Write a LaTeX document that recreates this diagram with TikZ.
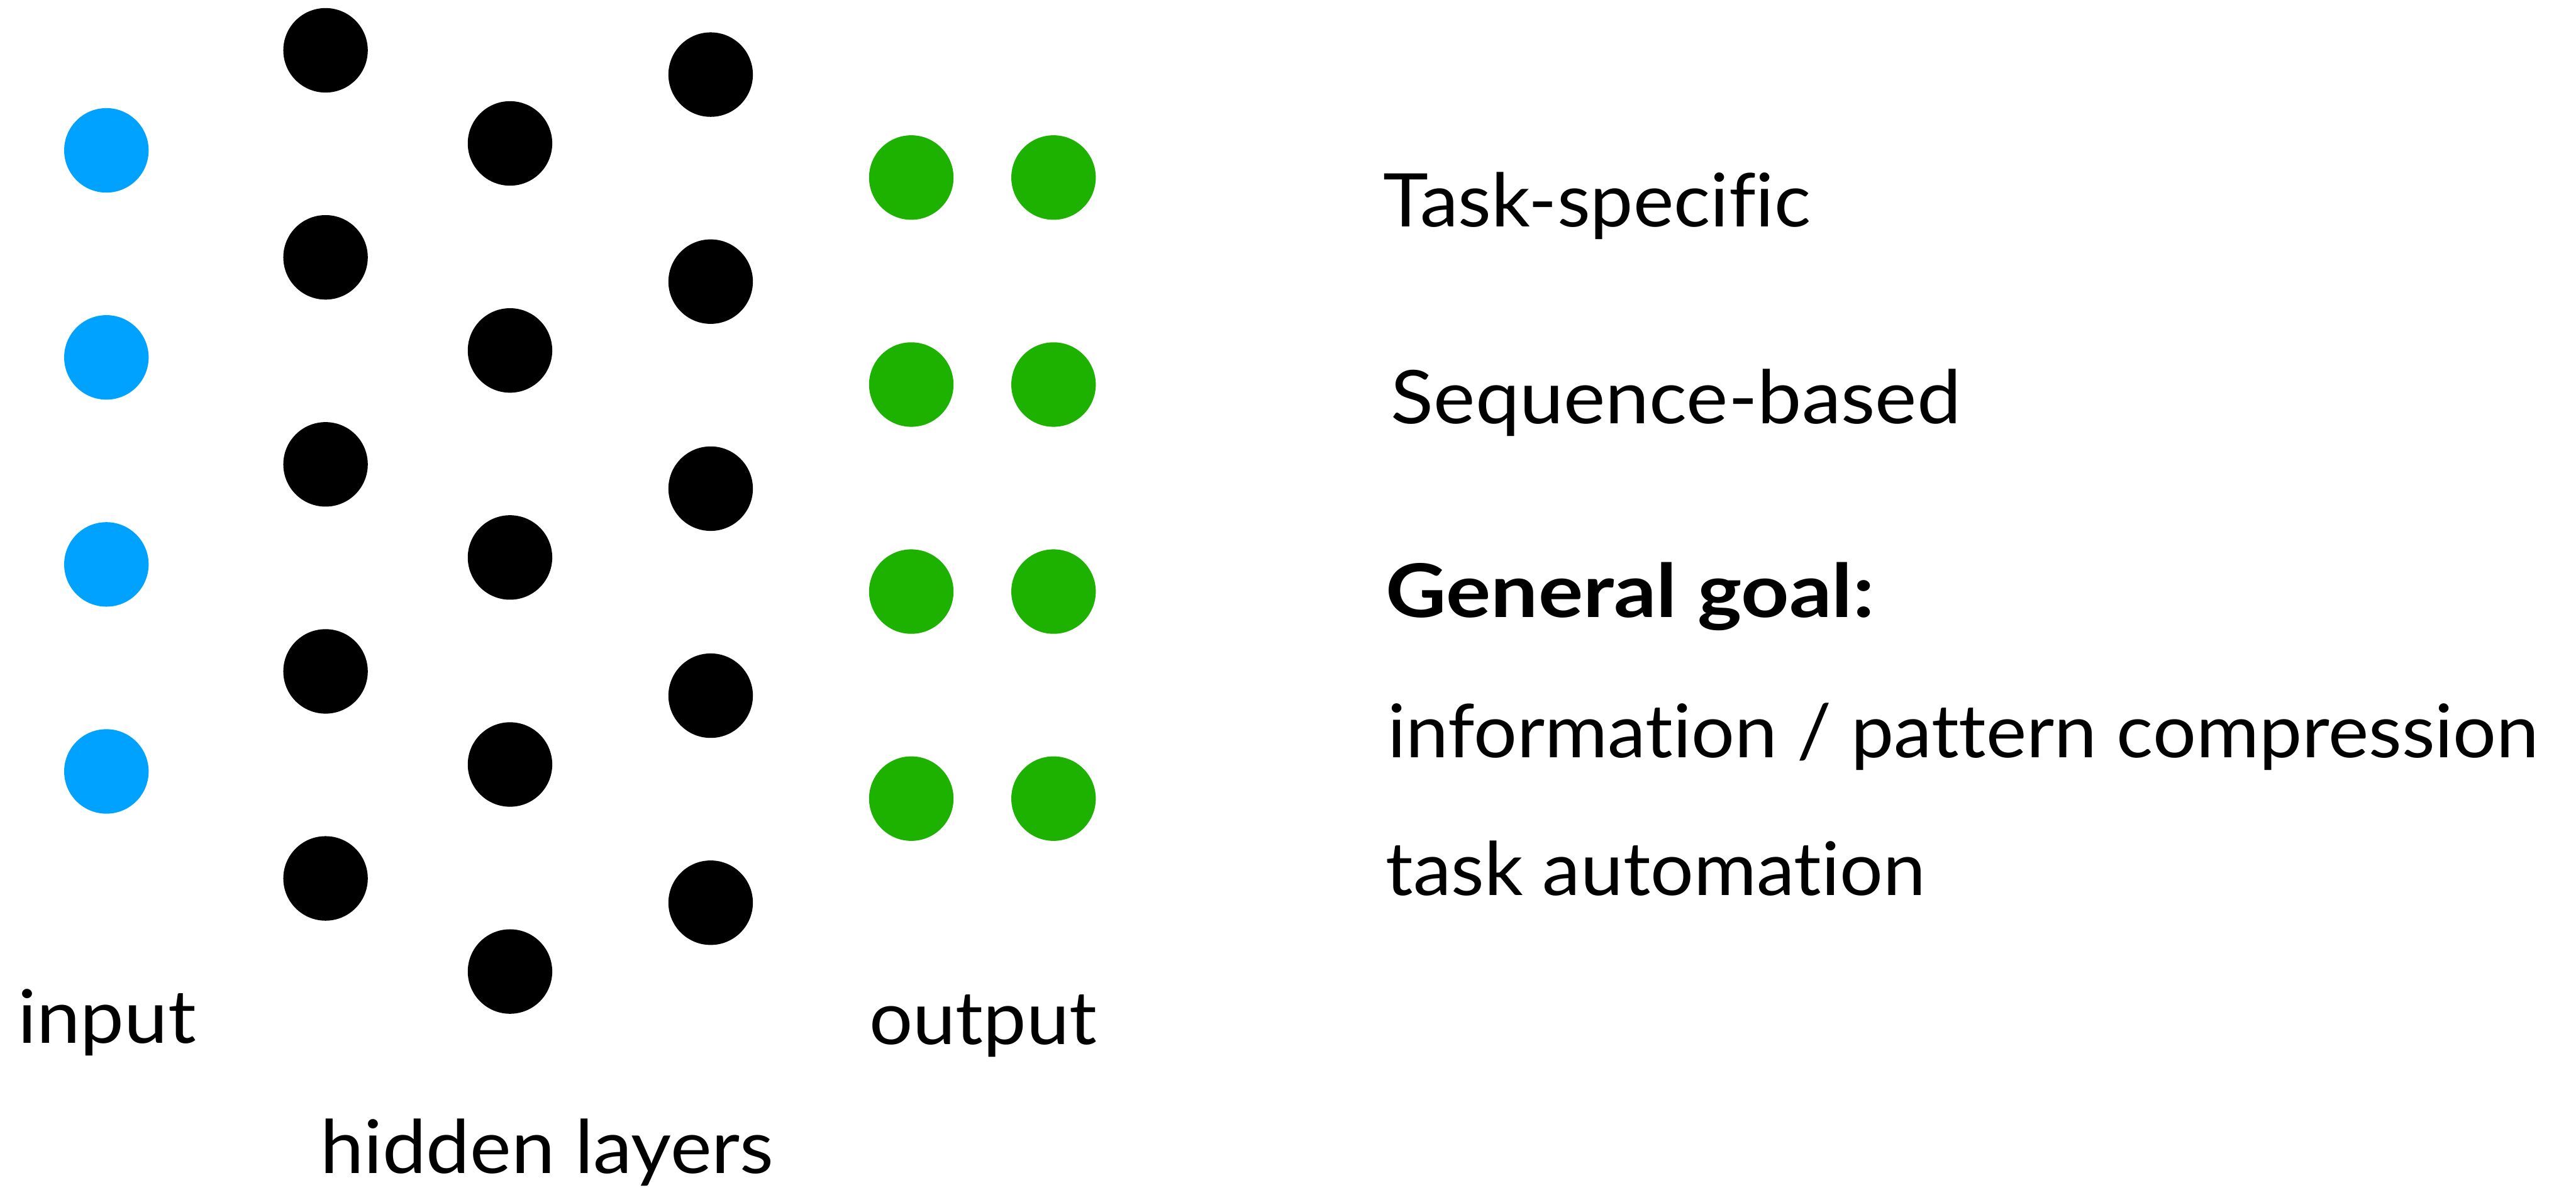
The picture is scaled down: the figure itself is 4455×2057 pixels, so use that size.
\documentclass[tikz,border=0pt]{standalone}
\usepackage{fontspec}
\setmainfont{Lato}[Ligatures=NoCommon]
\definecolor{inblue}{RGB}{0,162,255}
\definecolor{outgreen}{RGB}{29,177,0}
\newcommand\fitw[2]{\resizebox{#1}{\height}{#2}}
\begin{document}
\begin{tikzpicture}[x=0.01cm,y=-0.01cm,
  neuron/.style={circle,minimum size=1.46cm,inner sep=0pt,draw=none},
  lbl/.style={anchor=base west,inner sep=0pt,font=\fontsize{36.4pt}{40pt}\selectfont}]
\useasboundingbox (0,0) rectangle (4455,2057);
% input layer
\foreach \i in {1,...,4}{
  \node[neuron,fill=inblue] (in\i) at (184,{260+358*(\i-1)}) {};
}
% hidden layers
\foreach \i in {1,...,5}{
  \node[neuron,fill=black] (ha\i) at (563,{87+358*(\i-1)}) {};
  \node[neuron,fill=black] (hb\i) at (882,{248+358*(\i-1)}) {};
  \node[neuron,fill=black] (hc\i) at (1229,{129+358*(\i-1)}) {};
}
% output layer
\foreach \i in {1,...,4}{
  \node[neuron,fill=outgreen] (oa\i) at (1576,{307+358*(\i-1)}) {};
  \node[neuron,fill=outgreen] (ob\i) at (1822,{307+358*(\i-1)}) {};
}
% labels
\node[lbl] (linput) at (30,1804) {\fitw{3.08cm}{input}};
\node[lbl] (loutput) at (1503,1806) {\fitw{3.93cm}{output}};
\node[lbl] (lhidden) at (553,2029) {\fitw{7.84cm}{hidden layers}};
% right text
\node[lbl] (t1) at (2392,392) {\fitw{7.38cm}{Task-specific}};
\node[lbl] (t2) at (2405,733) {\fitw{9.85cm}{Sequence-based}};
\node[lbl,font=\fontsize{36.4pt}{40pt}\selectfont\bfseries] (t3) at (2396,1068) {\fitw{8.44cm}{General goal:}};
\node[lbl] (t4) at (2399,1310) {\fitw{19.9cm}{information / pattern compression}};
\node[lbl] (t5) at (2396,1548) {\fitw{9.33cm}{task automation}};
\end{tikzpicture}
\end{document}
